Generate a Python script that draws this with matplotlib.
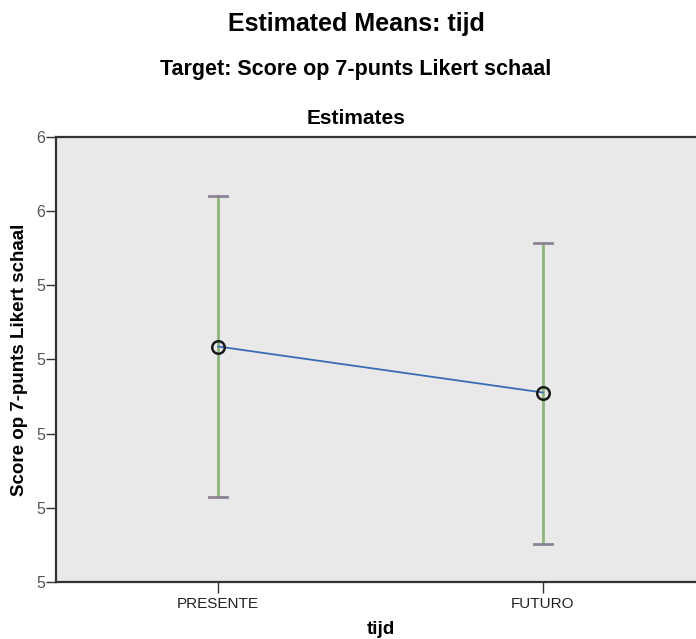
import matplotlib
matplotlib.use("Agg")
import matplotlib.pyplot as plt

## --- Data ---
categories = ["PRESENTE", "FUTURO"]
means = [5.235, 5.111]
upper = [5.642, 5.515]
lower = [4.829, 4.702]
y_ticks = [4.6, 4.8, 5.0, 5.2, 5.4, 5.6, 5.8]
y_tick_labels = ["5", "5", "5", "5", "5", "6", "6"]

## --- Style ---
plt.rcParams['font.family'] = ['Liberation Sans', 'DejaVu Sans']
BG = "#e9e9e9"
ERR_COLOR = "#8cb47a"
CAP_COLOR = "#8c8296"
LINE_COLOR = "#3a6cb5"
TITLE_X = 356 / 696

fig = plt.figure(figsize=(6.96, 6.39), dpi=100)
ax = fig.add_axes([56 / 696, 1 - 582 / 639, (705 - 56) / 696, (582 - 137) / 639])
ax.set_facecolor(BG)

x = list(range(len(categories)))

# error bars (green stems, grey-purple caps)
for xi, lo, hi in zip(x, lower, upper):
    ax.plot([xi, xi], [lo, hi], color=ERR_COLOR, lw=2, zorder=2)
    ax.plot([xi - 0.028, xi + 0.028], [hi, hi], color=CAP_COLOR, lw=2, zorder=3)
    ax.plot([xi - 0.028, xi + 0.028], [lo, lo], color=CAP_COLOR, lw=2, zorder=3)

ax.plot(x, means, color=LINE_COLOR, lw=1.3, zorder=4)
ax.plot(x, means, ls="none", marker="o", ms=9, mfc="none", mec="#1a1a1a", mew=1.8, zorder=5)

ax.set_xlim(-0.5, 1.5)
ax.set_ylim(4.6, 5.8)
ax.set_yticks(y_ticks)
ax.set_yticklabels(y_tick_labels, fontsize=11.5, color="#555555")
ax.set_xticks(x)
ax.set_xticklabels(categories, fontsize=11, color="#222222")
ax.tick_params(axis="y", length=7, width=1, color="#333333", pad=1)
ax.tick_params(axis="x", length=8, width=1, color="#333333", pad=3)

for side in ["top", "bottom", "left", "right"]:
    ax.spines[side].set_color("#333333")
    ax.spines[side].set_linewidth(1.6)

ax.set_xlabel("tijd", fontsize=13.5, fontweight="bold")
ax.xaxis.label.set_va("center")
ax.xaxis.set_label_coords(0.5, -(629 - 582) / 445)
ax.set_ylabel("Score op 7-punts Likert schaal", fontsize=13.5, fontweight="bold")
ax.yaxis.label.set_va("center")
ax.yaxis.set_label_coords(-(56 - 20) / 649, 0.5)

fig.text(TITLE_X, 1 - 24 / 639, "Estimated Means: tijd", ha="center", va="center",
         fontsize=18, fontweight="bold")
fig.text(TITLE_X, 1 - 69 / 639, "Target: Score op 7-punts Likert schaal", ha="center", va="center",
         fontsize=15.5, fontweight="bold")
fig.text(TITLE_X, 1 - 118 / 639, "Estimates", ha="center", va="center",
         fontsize=15, fontweight="bold")

fig.savefig("out.png", dpi=100)
